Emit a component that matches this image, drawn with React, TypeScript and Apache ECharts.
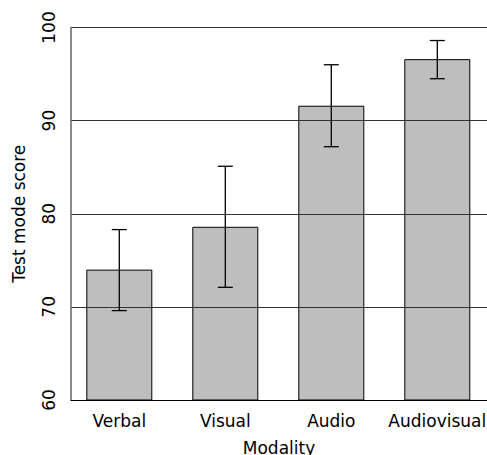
import React, { useEffect, useRef } from "react";
import * as echarts from "echarts";

const categories = ["Verbal", "Visual", "Audio", "Audiovisual"];
const meanScores = [74.0, 78.6, 91.6, 96.6];
const errLow = [69.6, 72.1, 87.2, 94.5];
const errHigh = [78.3, 85.1, 96.0, 98.6];
const yTicks = { min: 60, max: 100, interval: 10 };

const FONT = "DejaVu Sans";

export default function App() {
  const ref = useRef<HTMLDivElement>(null);
  useEffect(() => {
    if (!ref.current) return;
    const chart = echarts.init(ref.current, null, { renderer: "svg" });
    const errData = categories.map((_, i) => [i, errLow[i], errHigh[i]]);
    chart.setOption({
      animation: false,
      backgroundColor: "#fff",
      textStyle: { fontFamily: FONT },
      grid: [
        { left: 71, top: 27.5, width: 416, height: 372.5, outerBoundsMode: "none", containLabel: false },
        { left: 66.3, top: 27.5, width: 424, height: 372.5, outerBoundsMode: "none", containLabel: false },
      ],
      xAxis: [
        {
          type: "value",
          gridIndex: 0,
          min: 0,
          max: 1,
          axisLine: { show: true, lineStyle: { color: "#000", width: 1 } },
          axisTick: { show: false },
          axisLabel: { show: false },
          splitLine: { show: false },
          name: "Modality",
          nameLocation: "middle",
          nameGap: 39,
          nameTextStyle: { fontFamily: FONT, fontSize: 17, color: "#000" },
          z: 10,
        },
        {
          type: "category",
          gridIndex: 1,
          data: categories,
          axisLine: { show: false },
          axisTick: { show: false },
          axisLabel: { interval: 0, margin: 12, fontFamily: FONT, fontSize: 17, color: "#000" },
        },
      ],
      yAxis: [
        {
          type: "value",
          gridIndex: 0,
          min: yTicks.min,
          max: yTicks.max,
          interval: yTicks.interval,
          axisLine: { show: true, lineStyle: { color: "#666", width: 1.5 } },
          axisTick: { show: false },
          axisLabel: { rotate: 90, margin: 14, fontFamily: FONT, fontSize: 17, color: "#000" },
          splitLine: { show: true, lineStyle: { color: "#333", width: 1 } },
          name: "Test mode score",
          nameLocation: "middle",
          nameGap: 44,
          nameTextStyle: { fontFamily: FONT, fontSize: 17, color: "#000" },
          z: 10,
        },
        {
          type: "value",
          gridIndex: 1,
          min: yTicks.min,
          max: yTicks.max,
          interval: yTicks.interval,
          show: false,
        },
      ],
      series: [
        {
          type: "bar",
          xAxisIndex: 1,
          yAxisIndex: 1,
          data: meanScores,
          barWidth: 66,
          itemStyle: { color: "#bebebe", borderColor: "#000", borderWidth: 1 },
          z: 2,
        },
        {
          type: "custom",
          xAxisIndex: 1,
          yAxisIndex: 1,
          data: errData,
          z: 20,
          renderItem: (params: any, api: any) => {
            const i = api.value(0);
            const lo = api.coord([i, api.value(1)]);
            const hi = api.coord([i, api.value(2)]);
            const cap = 7.5;
            const style = { stroke: "#000", lineWidth: 1.3 };
            return {
              type: "group",
              children: [
                { type: "line", shape: { x1: lo[0], y1: lo[1], x2: hi[0], y2: hi[1] }, style },
                { type: "line", shape: { x1: hi[0] - cap, y1: hi[1], x2: hi[0] + cap, y2: hi[1] }, style },
                { type: "line", shape: { x1: lo[0] - cap, y1: lo[1], x2: lo[0] + cap, y2: lo[1] }, style },
              ],
            };
          },
        },
      ],
    });
    return () => chart.dispose();
  }, []);
  return <div ref={ref} style={{ width: 487, height: 455, position: "absolute", left: 0, top: 0 }} />;
}
